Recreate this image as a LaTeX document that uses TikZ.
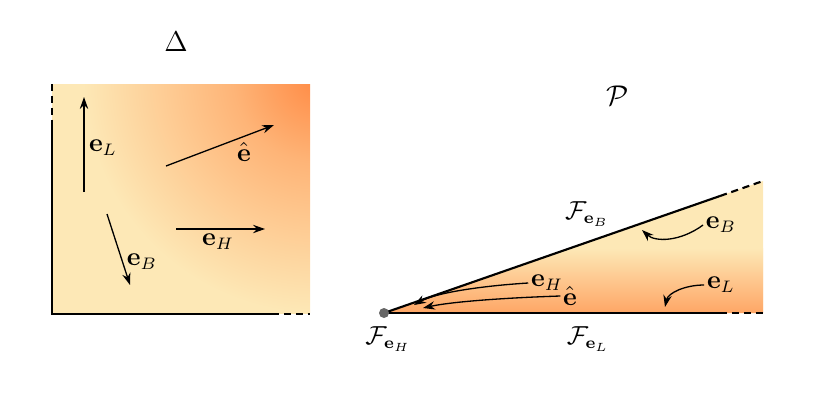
\documentclass[tikz,border=0pt]{standalone}
\usetikzlibrary{arrows.meta}
\definecolor{lightc}{RGB}{253,232,182}
\definecolor{orangec}{RGB}{255,138,68}
\pgfdeclareradialshading{cornerglow}{\pgfpoint{0bp}{0bp}}{color(0bp)=(orangec); color(9bp)=(orangec!55!lightc); color(25bp)=(lightc); color(50bp)=(lightc)}
\begin{document}
\begin{tikzpicture}[x=0.42pt,y=-0.42pt,
  edge/.style={line width=0.9pt,black},
  dashedge/.style={line width=0.9pt,black,dash pattern=on 3pt off 2pt},
  vec/.style={-{Stealth[length=5pt,width=3.5pt]},line width=0.55pt},
  lbl/.style={inner sep=1pt,font=\fontsize{10.5}{12}\selectfont},
  ttl/.style={font=\fontsize{13}{15}\selectfont}]
\useasboundingbox (0,0) rectangle (817,409);
% ---- left panel ----
\fill[lightc] (52,84) rectangle (310,314);
\begin{scope}
  \clip (52,84) rectangle (310,314);
  \shade[shading=cornerglow] (318,78) circle [radius=235];
\end{scope}
\coordinate (lt) at (52,84);
\coordinate (lm) at (52,125);
\coordinate (lb) at (52,314);
\coordinate (bm) at (272,314);
\coordinate (br) at (310,314);
\draw[dashedge] (lt) -- (lm);
\draw[edge] (lm) -- (lb) -- (bm);
\draw[dashedge] (bm) -- (br);
\node[ttl] (delta) at (176,42) {$\Delta$};
\coordinate (eLs) at (84,192); \coordinate (eLe) at (84,97);
\draw[vec] (eLs) -- (eLe);
\node[lbl] (eL) at (103,148) {$\mathbf{e}_L$};
\coordinate (eBs) at (107,214); \coordinate (eBe) at (130,285);
\draw[vec] (eBs) -- (eBe);
\node[lbl] (eB) at (142,262) {$\mathbf{e}_B$};
\coordinate (ehs) at (166,166); \coordinate (ehe) at (274,125);
\draw[vec] (ehs) -- (ehe);
\node[lbl] (eh) at (244,152) {$\hat{\mathbf{e}}$};
\coordinate (eHs) at (176,229); \coordinate (eHe) at (265,229);
\draw[vec] (eHs) -- (eHe);
\node[lbl] (eH) at (218,242) {$\mathbf{e}_H$};
% ---- right panel ----
\coordinate (apex) at (384,313);
\coordinate (tm) at (720,196);
\coordinate (tr) at (763,181);
\coordinate (bm2) at (720,313);
\coordinate (br2) at (763,313);
\fill[lightc] (apex) -- (tr) -- (br2) -- cycle;
\begin{scope}
  \clip (apex) -- (tr) -- (br2) -- cycle;
  \shade[top color=lightc, bottom color=orangec] (380,248) rectangle (770,340);
\end{scope}
\draw[edge] (apex) -- (tm);
\draw[dashedge] (tm) -- (tr);
\draw[edge] (apex) -- (bm2);
\draw[dashedge] (bm2) -- (br2);
\fill[black!60] (apex) circle [radius=5];
\node[ttl] (P) at (618,96) {$\mathcal{P}$};
\node[lbl] (FB) at (587,214) {$\mathcal{F}_{\mathbf{e}_B}$};
\node[lbl] (FL) at (588,339) {$\mathcal{F}_{\mathbf{e}_L}$};
\node[lbl] (FH) at (388,339) {$\mathcal{F}_{\mathbf{e}_H}$};
\node[lbl] (reB) at (721,225) {$\mathbf{e}_B$};
\node[lbl] (reL) at (721,285) {$\mathbf{e}_L$};
\node[lbl] (reH) at (547,283) {$\mathbf{e}_H$};
\node[lbl] (reh) at (570,296) {$\hat{\mathbf{e}}$};
\coordinate (tB) at (642,230);
\coordinate (tL) at (665,307);
\coordinate (tH) at (414,305);
\coordinate (th) at (423,308);
\draw[vec] (reB.west) .. controls (680,242) and (655,242) .. (tB);
\draw[vec] (reL.west) .. controls (685,285) and (668,293) .. (tL);
\draw[vec] (reH.west) .. controls (480,286) and (435,293) .. (tH);
\draw[vec] (reh.west) .. controls (500,298) and (450,302) .. (th);
\end{tikzpicture}
\end{document}
